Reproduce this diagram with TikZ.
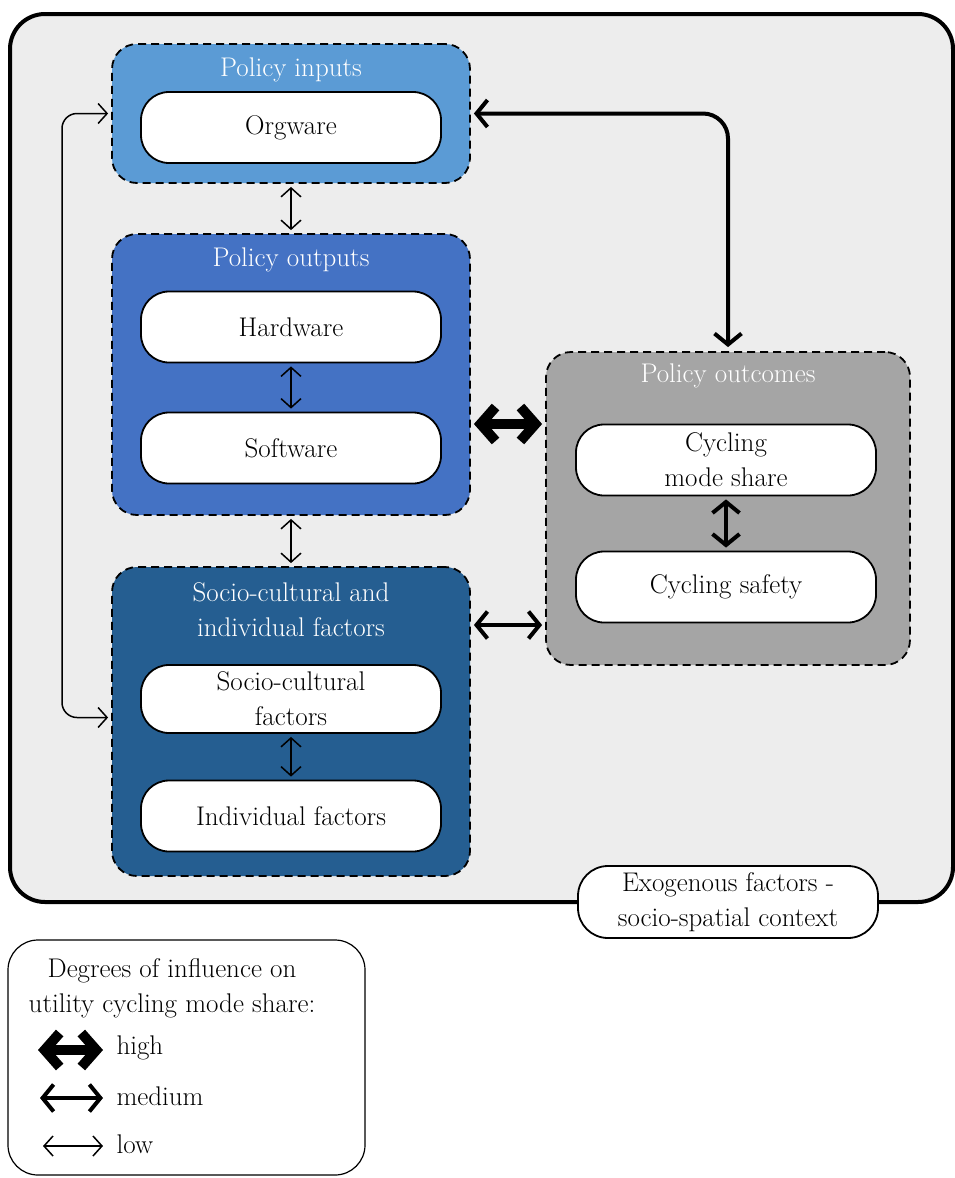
\documentclass[tikz,border=0pt]{standalone}
\usetikzlibrary{arrows.meta}
\definecolor{bggray}{HTML}{EDEDED}
\definecolor{inblue}{HTML}{5B9BD5}
\definecolor{outblue}{HTML}{4472C4}
\definecolor{socblue}{HTML}{255E91}
\definecolor{outgray}{HTML}{A5A5A5}
\newcommand\myfs{\fontsize{27}{35}\selectfont}
\begin{document}
\begin{tikzpicture}[x=1pt,y=-1pt,
  group/.style={draw, dash pattern=on 8pt off 5pt, line width=1.8pt, rounded corners=25pt, minimum width=358pt},
  inner/.style={draw, fill=white, line width=1.8pt, rounded corners=28pt, minimum width=300pt, minimum height=71pt, align=center, font=\myfs, inner sep=0pt},
  ttl/.style={text=white, font=\myfs, align=center},
  lowarr/.style={line width=1.5pt, {Straight Barb[length=9pt,width=20pt]}-{Straight Barb[length=9pt,width=20pt]}},
  medarr/.style={line width=4pt, {Straight Barb[length=11pt,width=27pt]}-{Straight Barb[length=11pt,width=27pt]}},
  higharr/.style={line width=10pt, {Straight Barb[length=15pt,width=34pt]}-{Straight Barb[length=15pt,width=34pt]}}
]
\useasboundingbox (0,0) rectangle (955,1178);
% outer context
\draw[fill=bggray, line width=4pt, rounded corners=35pt] (10,14) rectangle (953,902);
% groups
\node[group, fill=inblue, minimum height=139pt] (inputs) at (291,113.5) {};
\node[group, fill=outblue, minimum height=281pt] (outputs) at (291,374.5) {};
\node[group, fill=socblue, minimum height=309pt] (socio) at (291,721.5) {};
\node[group, fill=outgray, minimum width=364pt, minimum height=313pt] (outcomes) at (728,508.5) {};
% titles
\node[ttl] (tin) at (291,70) {Policy inputs};
\node[ttl] (tout) at (291,260) {Policy outputs};
\node[ttl] (tsoc) at (291,610) {Socio-cultural and\\individual factors};
\node[ttl] (toc) at (728,376) {Policy outcomes};
% inner boxes
\node[inner] (org) at (291,127.5) {Orgware};
\node[inner] (hard) at (291,327) {Hardware};
\node[inner] (soft) at (291,448) {Software};
\node[inner, minimum height=68pt] (scf) at (291,699) {Socio-cultural\\factors};
\node[inner] (indf) at (291,816) {Individual factors};
\node[inner] (cms) at (726,460) {Cycling\\mode share};
\node[inner] (cs) at (726,587) {Cycling safety};
% connectors
\draw[lowarr, shorten <=3pt, shorten >=3pt] (inputs.south) -- (outputs.north);
\draw[lowarr, shorten <=3pt, shorten >=3pt] (hard.south) -- (soft.north);
\draw[lowarr, shorten <=3pt, shorten >=3pt] (outputs.south) -- (socio.north);
\draw[lowarr, shorten <=3pt, shorten >=3pt] (scf.south) -- (indf.north);
\draw[medarr, shorten <=3pt, shorten >=3pt] (cms.south) -- (cs.north);
\draw[higharr, shorten <=3pt, shorten >=3pt] (outputs.east |- 0,424) -- (outcomes.west |- 0,424);
\draw[medarr, shorten <=3pt, shorten >=3pt] (socio.east |- 0,625) -- (outcomes.west |- 0,625);
\draw[medarr, rounded corners=25pt, shorten <=3pt, shorten >=4pt] (inputs.east) -| (outcomes.north);
\draw[lowarr, rounded corners=15pt, shorten <=3pt, shorten >=3pt] (inputs.west) -- (62,113.5) |- ([yshift=4pt]socio.west);
% exogenous label
\node[inner, minimum width=300pt, minimum height=72pt, rounded corners=30pt] (exo) at (728,902) {Exogenous factors -\\socio-spatial context};
% legend
\draw[line width=1.2pt, fill=white, rounded corners=30pt] (8,940) rectangle (365,1175);
\node[font=\myfs, align=center] (lt) at (172,988) {Degrees of influence on\\utility cycling mode share:};
\coordinate (h1) at (38,1050); \coordinate (h2) at (103,1050);
\coordinate (m1) at (40,1098); \coordinate (m2) at (103,1098);
\coordinate (l1) at (43,1146); \coordinate (l2) at (103,1146);
\draw[higharr] (h1) -- (h2);
\draw[medarr] (m1) -- (m2);
\draw[lowarr] (l1) -- (l2);
\node[font=\myfs, anchor=west] (lh) at (113,1048) {high};
\node[font=\myfs, anchor=west] (lm) at (113,1096) {medium};
\node[font=\myfs, anchor=west] (ll) at (113,1144) {low};
\end{tikzpicture}
\end{document}
